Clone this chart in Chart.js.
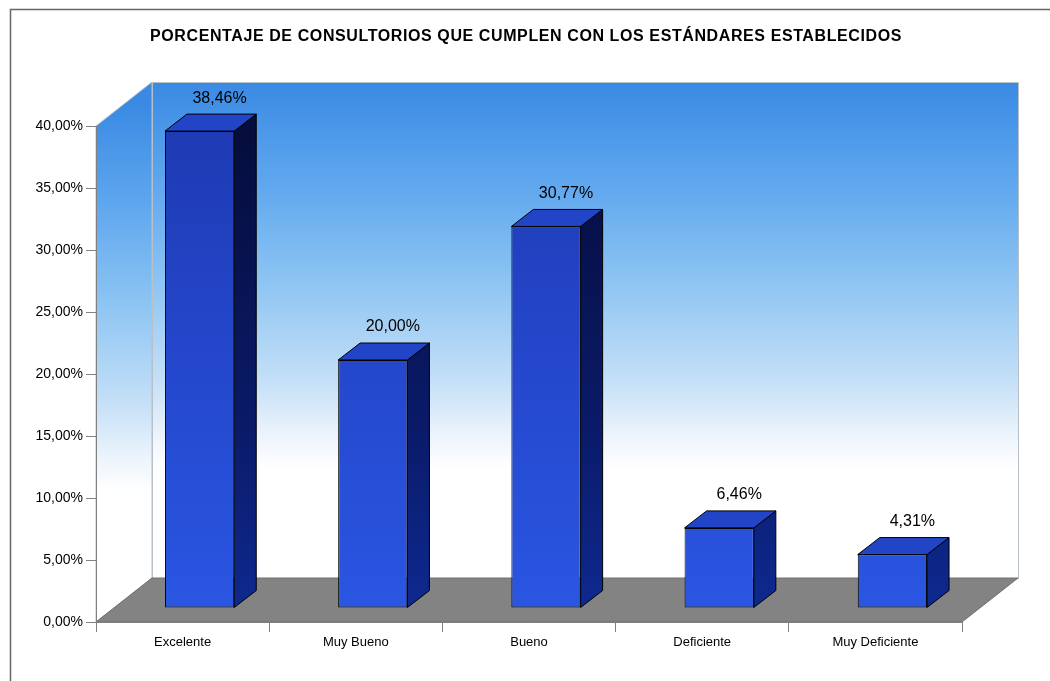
<!DOCTYPE html>
<html>
<head>
<meta charset="utf-8">
<script src="https://cdn.jsdelivr.net/npm/chart.js@4.4.0/dist/chart.umd.min.js"></script>
<style>
  html, body { margin: 0; padding: 0; background: #ffffff; }
  canvas { display: block; }
</style>
</head>
<body>
<canvas id="c" width="1050" height="681"></canvas>
<script>
// ---- data ----
const chartTitle = 'PORCENTAJE DE CONSULTORIOS QUE CUMPLEN CON LOS ESTÁNDARES ESTABLECIDOS';
const categories = ['Excelente', 'Muy Bueno', 'Bueno', 'Deficiente', 'Muy Deficiente'];
const percentValues = [38.46, 20.00, 30.77, 6.46, 4.31];
const yTickMin = 0;
const yTickMax = 40;
const yTickStep = 5;

// ---- style constants ----
const FONT = '"Liberation Sans", Arial, sans-serif';
const WALL_DX = 56, WALL_DY = -44;   // full depth of the 3D box
const FRONT_DX = 17, FRONT_DY = -14; // bar front face offset from axis plane
const BAR_DX = 22, BAR_DY = -17;     // bar depth

function fmtPct(v) { return v.toFixed(2).replace('.', ',') + '%'; }

function wallGradient(ctx, y0, y1) {
  const g = ctx.createLinearGradient(0, y0, 0, y1);
  g.addColorStop(0, '#3a8ae4');
  g.addColorStop(0.2, '#5ea6ee');
  g.addColorStop(0.4, '#8cc4f3');
  g.addColorStop(0.6, '#c4dff7');
  g.addColorStop(0.72, '#eef5fc');
  g.addColorStop(0.78, '#ffffff');
  g.addColorStop(1, '#ffffff');
  return g;
}

const threeD = {
  id: 'threeD',
  beforeDraw(chart) {
    const ctx = chart.ctx;
    const a = chart.chartArea;
    ctx.save();
    ctx.fillStyle = '#ffffff';
    ctx.fillRect(0, 0, chart.width, chart.height);
    // frame
    ctx.strokeStyle = '#666666';
    ctx.lineWidth = 1.5;
    ctx.strokeRect(10.5, 9.5, chart.width + 20, chart.height + 20);

    const bl = a.left + WALL_DX, bt = a.top + WALL_DY, br = a.right + WALL_DX, bb = a.bottom + WALL_DY;
    // back wall
    ctx.fillStyle = wallGradient(ctx, bt, bb);
    ctx.fillRect(bl, bt, br - bl, bb - bt);
    ctx.strokeStyle = '#b8c0c8';
    ctx.lineWidth = 1;
    ctx.strokeRect(bl + 0.5, bt + 0.5, br - bl, bb - bt);
    // side wall
    ctx.beginPath();
    ctx.moveTo(a.left, a.top);
    ctx.lineTo(bl, bt);
    ctx.lineTo(bl, bb);
    ctx.lineTo(a.left, a.bottom);
    ctx.closePath();
    ctx.fillStyle = wallGradient(ctx, (a.top + bt) / 2, (a.bottom + bb) / 2);
    ctx.fill();
    ctx.strokeStyle = '#b8c0c8';
    ctx.stroke();
    // floor
    ctx.beginPath();
    ctx.moveTo(a.left, a.bottom);
    ctx.lineTo(a.right, a.bottom);
    ctx.lineTo(br, bb);
    ctx.lineTo(bl, bb);
    ctx.closePath();
    ctx.fillStyle = '#838383';
    ctx.fill();
    ctx.strokeStyle = '#707070';
    ctx.stroke();
    ctx.restore();
  },
  beforeDatasetsDraw(chart) {
    chart.ctx.save();
    chart.ctx.translate(FRONT_DX, FRONT_DY);
  },
  afterDatasetsDraw(chart) {
    const ctx = chart.ctx;
    ctx.restore();
    const a = chart.chartArea;
    const meta = chart.getDatasetMeta(0);
    const sideG = ctx.createLinearGradient(0, a.top, 0, a.bottom);
    sideG.addColorStop(0, '#050d3c');
    sideG.addColorStop(0.6, '#0a1a68');
    sideG.addColorStop(1, '#0e2a92');
    meta.data.forEach((el, i) => {
      const p = el.getProps(['x', 'y', 'base', 'width'], true);
      const l = p.x - p.width / 2 + FRONT_DX, r = p.x + p.width / 2 + FRONT_DX;
      const t = p.y + FRONT_DY, b = p.base + FRONT_DY;
      ctx.save();
      ctx.lineWidth = 1;
      ctx.strokeStyle = '#000000';
      ctx.lineJoin = 'round';
      // side
      ctx.beginPath();
      ctx.moveTo(r, t);
      ctx.lineTo(r + BAR_DX, t + BAR_DY);
      ctx.lineTo(r + BAR_DX, b + BAR_DY);
      ctx.lineTo(r, b);
      ctx.closePath();
      ctx.fillStyle = sideG;
      ctx.fill();
      ctx.stroke();
      // top
      ctx.beginPath();
      ctx.moveTo(l, t);
      ctx.lineTo(l + BAR_DX, t + BAR_DY);
      ctx.lineTo(r + BAR_DX, t + BAR_DY);
      ctx.lineTo(r, t);
      ctx.closePath();
      ctx.fillStyle = '#2244c6';
      ctx.fill();
      ctx.stroke();
      // value label
      ctx.fillStyle = '#000000';
      ctx.font = '16px ' + FONT;
      ctx.textAlign = 'center';
      ctx.textBaseline = 'middle';
      ctx.fillText(fmtPct(percentValues[i]), (l + r) / 2 + 20, t - 33);
      ctx.restore();
    });
  },
  afterDraw(chart) {
    const ctx = chart.ctx;
    ctx.save();
    ctx.fillStyle = '#000000';
    ctx.font = 'bold 16px ' + FONT;
    if ('letterSpacing' in ctx) ctx.letterSpacing = '0.6px';
    ctx.textAlign = 'center';
    ctx.textBaseline = 'middle';
    ctx.fillText(chartTitle, 526, 37);
    ctx.restore();
  }
};

new Chart(document.getElementById('c'), {
  type: 'bar',
  data: {
    labels: categories,
    datasets: [{
      data: percentValues,
      backgroundColor(ctx) {
        const a = ctx.chart.chartArea;
        if (!a) return '#2a55e0';
        const g = ctx.chart.ctx.createLinearGradient(0, a.top, 0, a.bottom);
        g.addColorStop(0, '#1e3ab2');
        g.addColorStop(0.5, '#2447cc');
        g.addColorStop(1, '#2a56e2');
        return g;
      },
      borderColor: '#000000',
      borderWidth: 1,
      borderSkipped: false,
      barPercentage: 0.8,
      categoryPercentage: 0.5
    }]
  },
  options: {
    responsive: false,
    animation: false,
    devicePixelRatio: 1,
    layout: { padding: { top: 126, right: 88, left: 0, bottom: 0 } },
    plugins: {
      legend: { display: false },
      title: { display: false },
      tooltip: { enabled: false }
    },
    scales: {
      x: {
        offset: true,
        grid: { offset: true, drawOnChartArea: false, tickLength: 10, color: '#808080' },
        border: { display: true, color: '#808080' },
        ticks: { color: '#000000', font: { family: FONT, size: 13 }, padding: 3, maxRotation: 0 },
        afterFit(s) { s.height = 59; }
      },
      y: {
        min: yTickMin,
        max: yTickMax,
        grid: { drawOnChartArea: false, tickLength: 10, color: '#808080' },
        border: { display: true, color: '#808080' },
        ticks: {
          stepSize: yTickStep,
          color: '#000000',
          font: { family: FONT, size: 14 },
          padding: 3,
          callback: (v) => fmtPct(v)
        },
        afterFit(s) { s.width = 96; }
      }
    }
  },
  plugins: [threeD]
});
</script>
</body>
</html>
